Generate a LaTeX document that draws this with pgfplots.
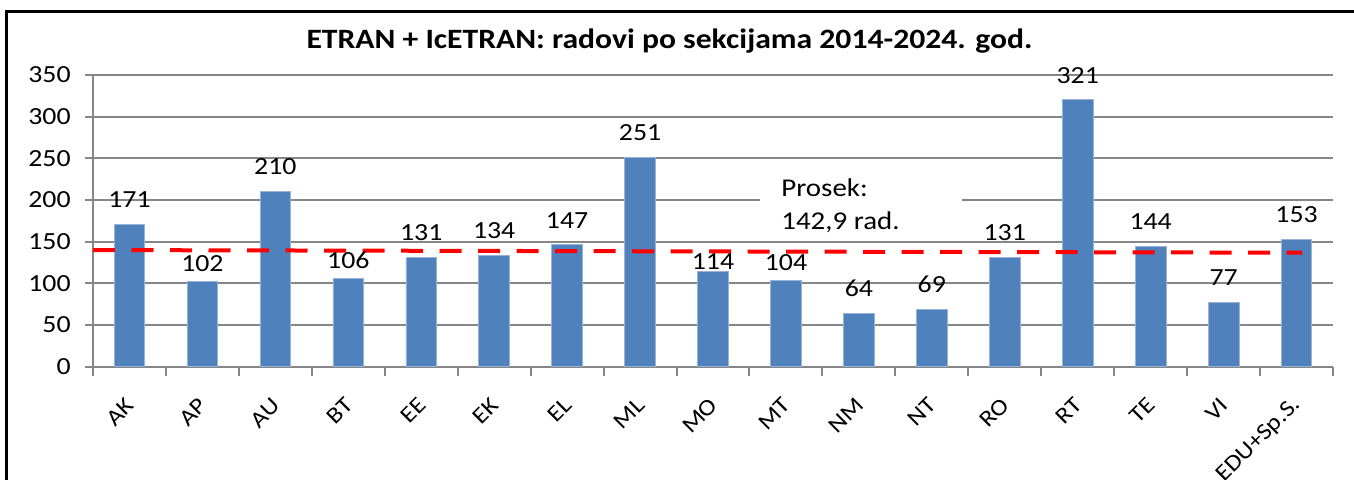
\documentclass[border=0pt]{standalone}
\usepackage{fontspec}
\setmainfont{Carlito}[FakeStretch=1.13]
\usepackage{pgfplots}
\pgfplotsset{compat=1.18}
\usepackage{pgfplotstable}

\definecolor{barblue}{RGB}{79,129,189}
\definecolor{baredge}{RGB}{150,180,218}
\definecolor{gridgray}{RGB}{134,134,134}

% x, value, label baseline position (value units)
\pgfplotstableread{
x y lab
0 171 191.4
1 102 114
2 210 230.4
3 106 117.4
4 131 151.4
5 134 154.4
6 147 166.2
7 251 271.4
8 114 117.2
9 104 116
10 64 84.4
11 69 89.4
12 131 151.4
13 321 340.5
14 144 164.4
15 77 97.4
16 153 173.4
}\datatable

\begin{document}
\begin{tikzpicture}[x=1pt,y=1pt]
\useasboundingbox (0,0) rectangle (677,240);
\draw[line width=1.5pt] (3,-5) -- (3,234) -- (690,234);
\node[anchor=base, font=\bfseries\fontsize{14}{16}\selectfont] at (334.75,215.5) {ETRAN + IcETRAN: radovi po sekcijama 2014-2024. god.};
\begin{axis}[
  at={(46.5pt,56.65pt)}, anchor=south west,
  width=620pt, height=145.8pt, scale only axis,
  xmin=-0.5, xmax=16.5, ymin=0, ymax=350,
  axis x line*=bottom, axis y line*=left,
  axis line style={gridgray, line width=1pt, -},
  /pgf/number format/assume math mode=true,
  ytick={0,50,...,350},
  ymajorgrids,
  grid style={gridgray, line width=1pt},
  tick align=outside,
  major tick length=4pt,
  minor tick length=4.5pt,
  tick style={gridgray, line width=1pt},
  xtick={0,...,16},
  minor xtick={-0.5,0.5,...,16.5},
  major x tick style={draw=none},
  xticklabels={AK,AP,AU,BT,EE,EK,EL,ML,MO,MT,NM,NT,RO,RT,TE,VI,EDU+Sp.S.},
  xticklabel style={xshift=0.5pt, yshift=-13.4pt, rotate=45, anchor=east, inner sep=0pt, font=\fontsize{11.5}{13}\selectfont},
  yticklabel style={anchor=east, inner sep=0pt, font=\fontsize{12.3}{13}\selectfont, xshift=-7pt},
  clip=false,
]
\addplot[ybar, bar width=15.3pt, fill=barblue, draw=baredge, line width=0.4pt]
  table[x=x, y=y] {\datatable};
\addplot[red, line width=2pt, dash pattern=on 11pt off 8.25pt] coordinates {(-0.5,140) (16.075,136.8)};
\addplot[draw=none, mark=none, nodes near coords, point meta=explicit symbolic,
  nodes near coords style={anchor=base, inner sep=0pt, font=\fontsize{12.3}{13}\selectfont, black}]
  table[x=x, y=lab, meta=y] {\datatable};
\fill[white] (axis cs:8.645,167) rectangle (axis cs:11.41,232);
\node[anchor=base west, inner sep=0pt, font=\fontsize{12.8}{14}\selectfont] at (axis cs:8.932,204.8) {Prosek:};
\node[anchor=base west, inner sep=0pt, font=\fontsize{12.8}{14}\selectfont] at (axis cs:8.932,164.9) {142,9 rad.};
\end{axis}
\end{tikzpicture}
\end{document}
